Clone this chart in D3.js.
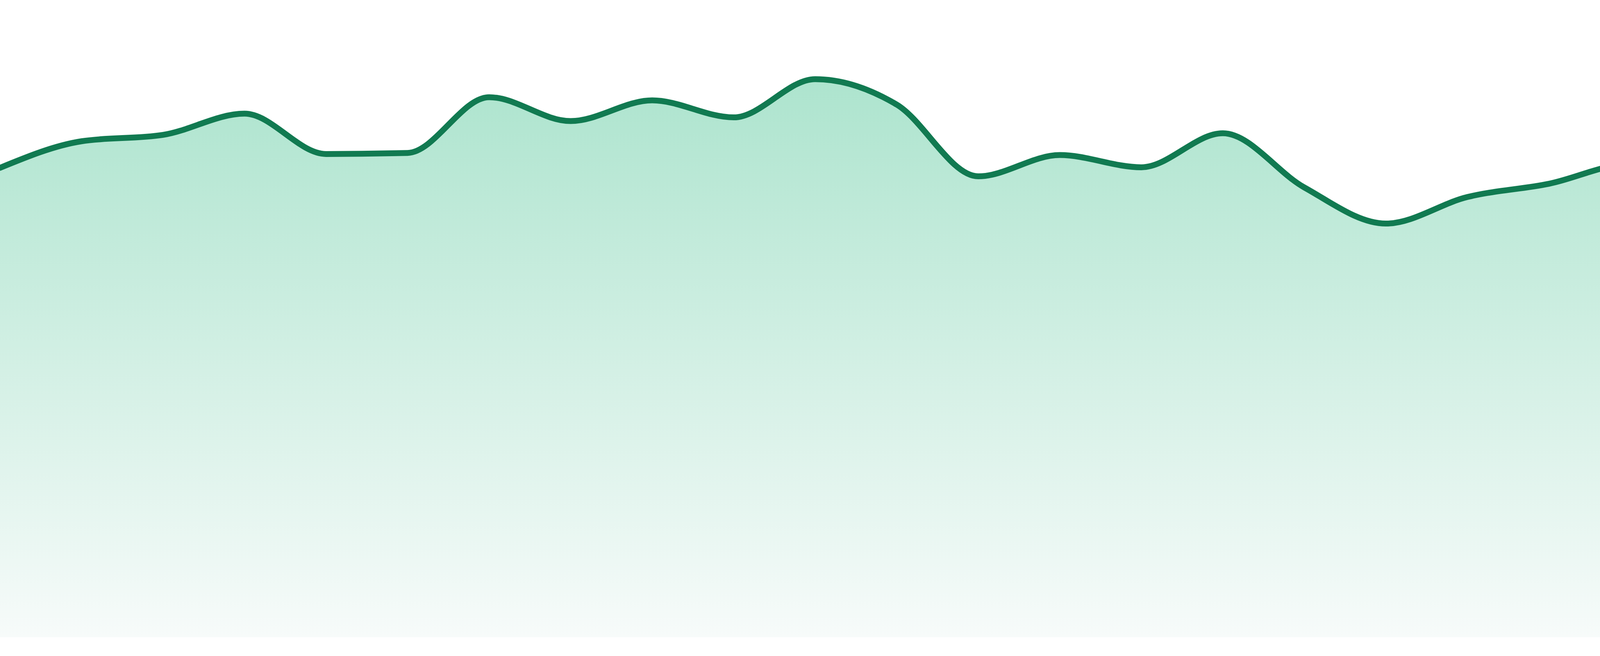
<!DOCTYPE html>
<html>
<head>
<meta charset="utf-8">
<script src="https://cdn.jsdelivr.net/npm/d3@7"></script>
<style>
  html, body { margin: 0; padding: 0; background: #ffffff; }
  svg { display: block; }
</style>
</head>
<body>
<div id="chart"></div>
<script>
// Data
const categories = ["1","2","3","4","5","6","7","8","9","10","11","12","13","14","15","16","17","18","19","20","21","22","23","24"];
const values = [884, 934, 946, 986, 910, 912, 1017, 972, 1011, 979, 1051, 1003, 868, 908, 885, 949, 847, 779, 829, 854, 891, 849, 893, 838];
const yDomain = [0, 1200];

const W = 4800, H = 1680;
const plotBottom = 1632;

const svg = d3.select("#chart").append("svg")
  .attr("width", W).attr("height", H)
  .attr("viewBox", `0 0 ${W} ${H}`);

const x = d3.scalePoint().domain(categories).range([0, W]);
const y = d3.scaleLinear().domain(yDomain).range([plotBottom, 0]);

const data = categories.map((c, i) => ({ c, v: values[i] }));

const defs = svg.append("defs");
const grad = defs.append("linearGradient")
  .attr("id", "areaGrad")
  .attr("gradientUnits", "userSpaceOnUse")
  .attr("x1", 0).attr("x2", 0)
  .attr("y1", y(d3.max(values))).attr("y2", plotBottom);
grad.append("stop").attr("offset", "0%").attr("stop-color", "#ade4ce");
grad.append("stop").attr("offset", "100%").attr("stop-color", "#f7fbfa");

const area = d3.area()
  .x(d => x(d.c))
  .y0(y(0))
  .y1(d => y(d.v))
  .curve(d3.curveMonotoneX);

const line = d3.line()
  .x(d => x(d.c))
  .y(d => y(d.v))
  .curve(d3.curveMonotoneX);

svg.append("path")
  .datum(data)
  .attr("d", area)
  .attr("fill", "url(#areaGrad)");

svg.append("path")
  .datum(data)
  .attr("d", line)
  .attr("fill", "none")
  .attr("stroke", "#117a51")
  .attr("stroke-width", 15)
  .attr("stroke-linejoin", "round")
  .attr("stroke-linecap", "round");
</script>
</body>
</html>
